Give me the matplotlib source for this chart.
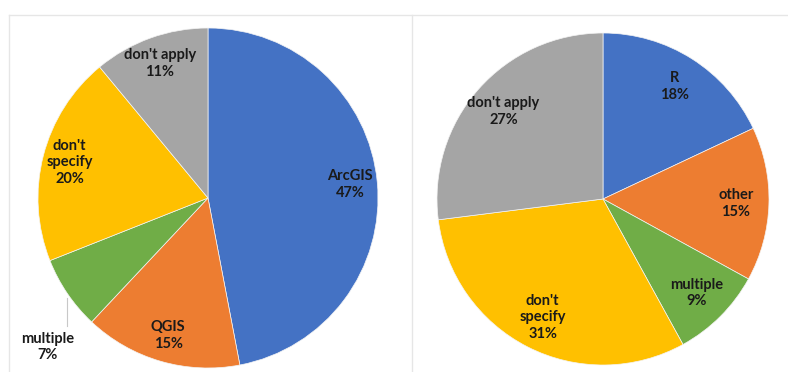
import matplotlib.pyplot as plt

# left pie: GIS software
left_names = ["ArcGIS", "QGIS", "multiple", "don't\nspecify", "don't apply"]
left_vals = [47, 15, 7, 20, 11]
# right pie: statistics software
right_names = ["R", "other", "multiple", "don't\nspecify", "don't apply"]
right_vals = [18, 15, 9, 31, 27]

blue, orange, gray, yellow, green = "#4472C4", "#ED7D31", "#A5A5A5", "#FFC000", "#70AD47"
colors = [blue, orange, green, yellow, gray]

W, H = 788, 372
fig = plt.figure(figsize=(W / 100, H / 100), dpi=100)
ax = fig.add_axes([0, 0, 1, 1])
ax.set_xlim(0, W)
ax.set_ylim(0, H)
ax.set_aspect("equal")
ax.axis("off")

# faint panel borders
bc = "#e6e6e6"
ax.plot([9, W], [H - 15, H - 15], color=bc, lw=1)
ax.plot([9, 9], [0, H - 15], color=bc, lw=1)
ax.plot([412, 412], [0, H - 15], color=bc, lw=1)

font = dict(family="Lato", weight="bold", size=10.5, color="#1a1a1a")


def draw(vals, names, center, radius, dist):
    labels = [f"{n}\n{v}%" for n, v in zip(names, vals)]
    wedges, texts = ax.pie(vals, labels=labels, colors=colors, startangle=90,
                           counterclock=False, center=center, radius=radius,
                           labeldistance=dist, frame=True,
                           wedgeprops=dict(edgecolor="#f4f4f4", linewidth=0.5),
                           textprops=font)
    for t in texts:
        t.set_horizontalalignment("center")
        t.set_verticalalignment("center")
        t.set_multialignment("center")
        t.set_linespacing(1.25)
    return texts


lt = draw(left_vals, left_names, (208, 174), 170, 0.84)
rt = draw(right_vals, right_names, (603, 173), 166, 0.8)

# 'multiple' label on the left sits outside with a leader line
lt[2].set_position((48, 25))
ax.plot([67, 67], [74, 46], color="#c8c8c8", lw=0.8)

ax.set_xlim(0, W)
ax.set_ylim(0, H)
fig.savefig("out.png", dpi=100)
